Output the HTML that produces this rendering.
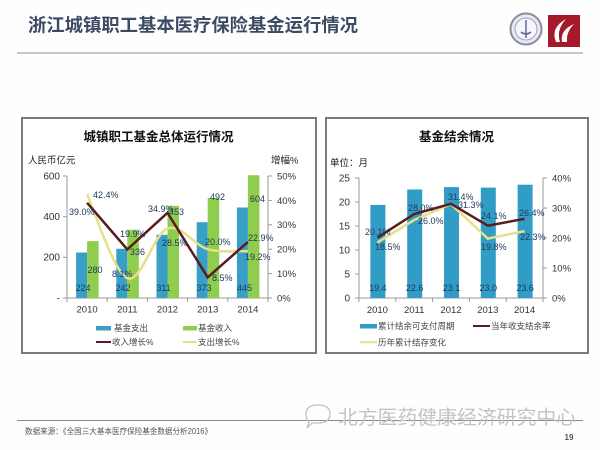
<!DOCTYPE html>
<html><head><meta charset="utf-8"><style>
html,body{margin:0;padding:0;background:#fff;}
svg{display:block;}
text{font-family:"Liberation Sans","Noto Sans CJK SC",sans-serif;}
</style></head><body>
<svg width="600" height="450" viewBox="0 0 600 450" xmlns="http://www.w3.org/2000/svg">
<rect x="0" y="0" width="600" height="450" fill="#fefefe"/>
<!-- Title -->
<text x="28" y="31.5" font-size="18" font-weight="bold" fill="#3c4b63" textLength="330" lengthAdjust="spacingAndGlyphs">浙江城镇职工基本医疗保险基金运行情况</text>
<line x1="17" y1="53" x2="583" y2="53" stroke="#b5b5b5" stroke-width="1.5"/>
<!-- logos -->
<circle cx="526" cy="29" r="15.5" fill="#e9e9f0" stroke="#8a8aa0" stroke-width="2"/>
<circle cx="526" cy="29" r="11" fill="#f6f6fa" stroke="#a0a0c0" stroke-width="1"/>
<path d="M526 20 L526 38 M521 32 Q526 36 531 32" stroke="#5a6a9a" stroke-width="1.5" fill="none"/>
<rect x="548" y="15" width="32" height="32" fill="#a5192b"/>
<path d="M556 42 Q550 28 566 19 Q556 30 560 42 Z" fill="#fff"/>
<path d="M562 42 Q560 30 574 24 Q566 32 567 42 Z" fill="#fff"/>

<!-- Left panel -->
<rect x="22" y="118" width="294" height="235" fill="#fff" stroke="#7a7a7a" stroke-width="2"/>
<text x="158.5" y="141" font-size="12.5" font-weight="bold" fill="#111" text-anchor="middle">城镇职工基金总体运行情况</text>
<text x="28" y="163.5" font-size="9.5" fill="#222">人民币亿元</text>
<text x="271" y="163.5" font-size="9.5" fill="#222">增幅%</text>
<!-- axes -->
<g stroke="#9a9a9a" stroke-width="1">
<line x1="67" y1="176" x2="67" y2="298"/>
<line x1="268" y1="176" x2="268" y2="298"/>
<line x1="67" y1="298" x2="268" y2="298"/>
<line x1="63" y1="176" x2="67" y2="176"/><line x1="63" y1="216.7" x2="67" y2="216.7"/><line x1="63" y1="257.3" x2="67" y2="257.3"/><line x1="63" y1="298" x2="67" y2="298"/>
<line x1="268" y1="176" x2="272" y2="176"/><line x1="268" y1="200.4" x2="272" y2="200.4"/><line x1="268" y1="224.8" x2="272" y2="224.8"/><line x1="268" y1="249.2" x2="272" y2="249.2"/><line x1="268" y1="273.6" x2="272" y2="273.6"/><line x1="268" y1="298" x2="272" y2="298"/>
<line x1="67" y1="298" x2="67" y2="302"/><line x1="107.2" y1="298" x2="107.2" y2="302"/><line x1="147.4" y1="298" x2="147.4" y2="302"/><line x1="187.6" y1="298" x2="187.6" y2="302"/><line x1="227.8" y1="298" x2="227.8" y2="302"/><line x1="268" y1="298" x2="268" y2="302"/>
</g>
<g font-size="10" fill="#333" text-anchor="end">
<text x="60" y="179.5">600</text><text x="60" y="220">400</text><text x="60" y="260.5">200</text><text x="60" y="301.5">-</text>
</g>
<g font-size="9.5" fill="#333">
<text x="277" y="179.5">50%</text><text x="277" y="204">40%</text><text x="277" y="228">30%</text><text x="277" y="252.5">20%</text><text x="277" y="277">10%</text><text x="277" y="301.5">0%</text>
</g>
<g font-size="9.5" fill="#333" text-anchor="middle">
<text x="87.1" y="312.5">2010</text><text x="127.3" y="312.5">2011</text><text x="167.5" y="312.5">2012</text><text x="207.7" y="312.5">2013</text><text x="247.9" y="312.5">2014</text>
</g>
<!-- bars -->
<g fill="#389fc6">
<rect x="76.1" y="252.5" width="11" height="45.5"/>
<rect x="116.3" y="248.8" width="11" height="49.2"/>
<rect x="156.5" y="234.8" width="11" height="63.2"/>
<rect x="196.7" y="222.2" width="11" height="75.8"/>
<rect x="236.9" y="207.5" width="11" height="90.5"/>
</g>
<g fill="#8fcd4f">
<rect x="87.1" y="241.1" width="11.5" height="56.9"/>
<rect x="127.3" y="229.7" width="11.5" height="68.3"/>
<rect x="167.5" y="205.9" width="11.5" height="92.1"/>
<rect x="207.7" y="198" width="11.5" height="100"/>
<rect x="247.9" y="175.2" width="11.5" height="122.8"/>
</g>
<!-- lines -->
<path d="M87.1 194.5 C93.8 208.45 113.9 272.53 127.3 278.2 C140.7 283.87 154.1 233.33 167.5 228.5 C180.9 223.67 194.3 245.42 207.7 249.2 C221.1 252.98 241.2 250.87 247.9 251.2" fill="none" stroke="#e8df86" stroke-width="2.5"/>
<polyline points="87.1,202.8 127.3,249.4 167.5,212.8 207.7,277.3 247.9,242" fill="none" stroke="#5a1c1e" stroke-width="2.5"/>
<!-- labels -->
<g font-size="9" fill="#22385a">
<text x="83" y="291" text-anchor="middle">224</text>
<text x="123" y="291" text-anchor="middle">242</text>
<text x="163.5" y="291" text-anchor="middle">311</text>
<text x="204" y="291" text-anchor="middle">373</text>
<text x="244.5" y="291" text-anchor="middle">445</text>
<text x="95" y="273.2" text-anchor="middle">280</text>
<text x="137.5" y="255" text-anchor="middle">336</text>
<text x="176.5" y="215" text-anchor="middle">453</text>
<text x="217.5" y="200.2" text-anchor="middle">492</text>
<text x="257.5" y="202.2" text-anchor="middle">604</text>
<text x="93" y="198.2">42.4%</text>
<text x="69" y="215.2">39.0%</text>
<text x="120" y="237.2">19.9%</text>
<text x="112" y="277.2">8.1%</text>
<text x="148" y="212.2">34.9%</text>
<text x="162" y="246.2">28.5%</text>
<text x="205" y="245.2">20.0%</text>
<text x="212" y="281.2">8.5%</text>
<text x="248" y="241.2">22.9%</text>
<text x="245" y="260.2">19.2%</text>
</g>
<!-- legend left -->
<rect x="96" y="326" width="15" height="4.5" fill="#389fc6"/>
<text x="114" y="331.2" font-size="8.5" fill="#444">基金支出</text>
<rect x="183" y="326" width="14" height="4.5" fill="#8fcd4f"/>
<text x="198" y="331.2" font-size="8.5" fill="#444">基金收入</text>
<line x1="96" y1="342" x2="111" y2="342" stroke="#5a1c1e" stroke-width="2"/>
<text x="112" y="345.2" font-size="8.5" fill="#444">收入增长%</text>
<line x1="183" y1="342" x2="197" y2="342" stroke="#e8df86" stroke-width="2"/>
<text x="198" y="345.2" font-size="8.5" fill="#444">支出增长%</text>

<!-- Right panel -->
<rect x="326" y="118" width="262" height="235" fill="#fff" stroke="#7a7a7a" stroke-width="2"/>
<text x="456.5" y="141" font-size="12.5" font-weight="bold" fill="#111" text-anchor="middle">基金结余情况</text>
<text x="330" y="166" font-size="9.5" fill="#222">单位：月</text>
<g stroke="#9a9a9a" stroke-width="1">
<line x1="359" y1="178" x2="359" y2="298"/>
<line x1="543" y1="178" x2="543" y2="298"/>
<line x1="359" y1="298" x2="543" y2="298"/>
<line x1="355" y1="178" x2="359" y2="178"/><line x1="355" y1="202" x2="359" y2="202"/><line x1="355" y1="226" x2="359" y2="226"/><line x1="355" y1="250" x2="359" y2="250"/><line x1="355" y1="274" x2="359" y2="274"/><line x1="355" y1="298" x2="359" y2="298"/>
<line x1="543" y1="178" x2="547" y2="178"/><line x1="543" y1="208" x2="547" y2="208"/><line x1="543" y1="238" x2="547" y2="238"/><line x1="543" y1="268" x2="547" y2="268"/><line x1="543" y1="298" x2="547" y2="298"/>
<line x1="359" y1="298" x2="359" y2="302"/><line x1="395.8" y1="298" x2="395.8" y2="302"/><line x1="432.6" y1="298" x2="432.6" y2="302"/><line x1="469.4" y1="298" x2="469.4" y2="302"/><line x1="506.2" y1="298" x2="506.2" y2="302"/><line x1="543" y1="298" x2="543" y2="302"/>
</g>
<g font-size="10" fill="#333" text-anchor="end">
<text x="350" y="181.5">25</text><text x="350" y="205.5">20</text><text x="350" y="229.5">15</text><text x="350" y="253.5">10</text><text x="350" y="277.5">5</text><text x="350" y="301.5">0</text>
</g>
<g font-size="9.5" fill="#333">
<text x="552" y="181.5">40%</text><text x="552" y="211.5">30%</text><text x="552" y="241.5">20%</text><text x="552" y="271.5">10%</text><text x="552" y="301.5">0%</text>
</g>
<g font-size="9.5" fill="#333" text-anchor="middle">
<text x="377.4" y="313">2010</text><text x="414.2" y="313">2011</text><text x="451" y="313">2012</text><text x="487.8" y="313">2013</text><text x="524.6" y="313">2014</text>
</g>
<g fill="#319dc7">
<rect x="370.4" y="204.9" width="15" height="93.1"/>
<rect x="407.2" y="189.5" width="15" height="108.5"/>
<rect x="444" y="187.1" width="15" height="110.9"/>
<rect x="480.8" y="187.6" width="15" height="110.4"/>
<rect x="517.6" y="184.7" width="15" height="113.3"/>
</g>
<polyline points="377.4,242.5 414.2,220 451,204.1 487.8,238.6 524.6,231.1" fill="none" stroke="#e8df86" stroke-width="2.5"/>
<polyline points="377.4,237.7 414.2,214 451,203.8 487.8,225.7 524.6,218.8" fill="none" stroke="#5a1c1e" stroke-width="2.5"/>
<g font-size="9" fill="#22385a">
<text x="377.9" y="291" text-anchor="middle">19.4</text>
<text x="414.7" y="291" text-anchor="middle">22.6</text>
<text x="451.5" y="291" text-anchor="middle">23.1</text>
<text x="488.3" y="291" text-anchor="middle">23.0</text>
<text x="525.1" y="291" text-anchor="middle">23.6</text>
<text x="365" y="235.2">20.1%</text>
<text x="375" y="250.2">18.5%</text>
<text x="408" y="211.2">28.0%</text>
<text x="418" y="224.2">26.0%</text>
<text x="448" y="200.2">31.4%</text>
<text x="458" y="208.2">31.3%</text>
<text x="481" y="219.2">24.1%</text>
<text x="481" y="250.2">19.8%</text>
<text x="519" y="216.2">26.4%</text>
<text x="520" y="240.2">22.3%</text>
</g>
<rect x="360" y="324" width="17" height="4.5" fill="#319dc7"/>
<text x="378" y="329.2" font-size="8.5" fill="#444">累计结余可支付周期</text>
<line x1="473" y1="326" x2="490" y2="326" stroke="#5a1c1e" stroke-width="2"/>
<text x="491" y="329.2" font-size="8.5" fill="#444">当年收支结余率</text>
<line x1="360" y1="342.3" x2="377" y2="342.3" stroke="#e8df86" stroke-width="2"/>
<text x="378" y="345.5" font-size="8.5" fill="#444">历年累计结存变化</text>

<!-- footer -->
<line x1="17" y1="420.5" x2="583" y2="420.5" stroke="#8a8a8a" stroke-width="1"/>
<text x="25" y="434" font-size="8" fill="#555" textLength="187" lengthAdjust="spacingAndGlyphs">数据来源：《全国三大基本医疗保险基金数据分析2016》</text>
<!-- watermark -->
<g fill="none" stroke="#c2c2c2" stroke-width="1.3">
<path d="M306 414 Q306 405 318 405 Q330 405 330 414 Q330 423 318 423 L312 423 L307 428 L309 422 Q306 420 306 414 Z"/>
</g>
<text x="338" y="424" font-size="19.5" fill="#c4c4c4" textLength="238" lengthAdjust="spacingAndGlyphs">北方医药健康经济研究中心</text>
<text x="569" y="440" font-size="8" font-weight="bold" fill="#4a5568" text-anchor="middle">19</text>
</svg>
</body></html>
